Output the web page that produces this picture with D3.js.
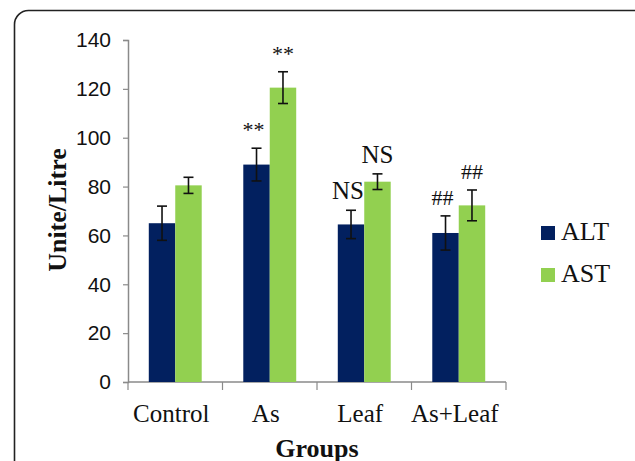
<!DOCTYPE html>
<html>
<head>
<meta charset="utf-8">
<script src="https://cdn.jsdelivr.net/npm/d3@7"></script>
<style>
  body { margin: 0; background: #fff; }
  svg { display: block; }
</style>
</head>
<body>
<script>
// values
const groups = ["Control", "As", "Leaf", "As+Leaf"];
const series = ["ALT", "AST"];
const altVals = [65, 89, 64.5, 61];
const astVals = [80.5, 120.5, 82, 72.3];
const altErr = [7, 6.7, 5.8, 7];
const astErr = [3.3, 6.5, 3.2, 6.3];
const altMarks = ["", "**", "NS", "##"];
const astMarks = ["", "**", "NS", "##"];
const yTicks = [0, 20, 40, 60, 80, 100, 120, 140];
const colors = ["#02205f", "#92d050"];

const W = 635, H = 461;
const svg = d3.select("body").append("svg")
  .attr("width", W)
  .attr("height", H);

// rounded frame, runs off right and bottom
svg.append("rect")
  .attr("x", 14.5).attr("y", 10.5)
  .attr("width", 640).attr("height", 480)
  .attr("rx", 14)
  .attr("fill", "none")
  .attr("stroke", "#222")
  .attr("stroke-width", 1.6);

const plotL = 128, plotR = 506, plotT = 40, plotB = 382;

const y = d3.scaleLinear().domain([0, 140]).range([plotB, plotT]);
const x0 = d3.scaleBand().domain(groups).range([plotL, plotR]).padding(0);
const bw = x0.bandwidth();
const x1 = d3.scaleBand().domain(series).range([bw * 0.22, bw * 0.78]).padding(0);

// y axis
const yAxis = svg.append("g")
  .attr("transform", `translate(${plotL},0)`)
  .call(d3.axisLeft(y).tickValues(yTicks).tickSize(5).tickPadding(12));
yAxis.select(".domain").attr("stroke", "#8a8a8a").attr("stroke-width", 1.5);
yAxis.selectAll(".tick line").attr("stroke", "#8a8a8a").attr("stroke-width", 1.2);
yAxis.selectAll(".tick text")
  .attr("font-family", "Liberation Sans, Arial, sans-serif")
  .attr("font-size", 21)
  .attr("fill", "#111");

// x axis with ticks on band boundaries
const xg = svg.append("g");
xg.append("line")
  .attr("x1", plotL).attr("x2", plotR)
  .attr("y1", plotB).attr("y2", plotB)
  .attr("stroke", "#8a8a8a").attr("stroke-width", 1.5);
const bounds = groups.map(g => x0(g)).concat([plotR]);
xg.selectAll("line.tk").data(bounds).enter().append("line")
  .attr("class", "tk")
  .attr("x1", d => d).attr("x2", d => d)
  .attr("y1", plotB).attr("y2", plotB + 8)
  .attr("stroke", "#8a8a8a").attr("stroke-width", 1.2);
xg.selectAll("text").data(groups).enter().append("text")
  .attr("x", d => x0(d) + bw / 2 - 4)
  .attr("y", 422)
  .attr("text-anchor", "middle")
  .attr("font-family", "Liberation Serif, Times New Roman, serif")
  .attr("font-size", 25)
  .attr("fill", "#111")
  .text(d => d);

// bars
const rows = groups.map((g, i) => ({
  group: g,
  items: [
    { key: "ALT", v: altVals[i], e: altErr[i], m: altMarks[i], c: colors[0] },
    { key: "AST", v: astVals[i], e: astErr[i], m: astMarks[i], c: colors[1] }
  ]
}));

const gg = svg.selectAll("g.grp").data(rows).enter().append("g")
  .attr("class", "grp")
  .attr("transform", d => `translate(${x0(d.group)},0)`);

gg.selectAll("rect").data(d => d.items).enter().append("rect")
  .attr("x", d => x1(d.key))
  .attr("y", d => y(d.v))
  .attr("width", x1.bandwidth())
  .attr("height", d => y(0) - y(d.v))
  .attr("fill", d => d.c);

// error bars
const cap = 5;
const eb = gg.selectAll("g.err").data(d => d.items).enter().append("g")
  .attr("class", "err")
  .attr("stroke", "#111")
  .attr("stroke-width", 1.6);
eb.append("line")
  .attr("x1", d => x1(d.key) + x1.bandwidth() / 2)
  .attr("x2", d => x1(d.key) + x1.bandwidth() / 2)
  .attr("y1", d => y(d.v + d.e))
  .attr("y2", d => y(d.v - d.e));
eb.append("line")
  .attr("x1", d => x1(d.key) + x1.bandwidth() / 2 - cap)
  .attr("x2", d => x1(d.key) + x1.bandwidth() / 2 + cap)
  .attr("y1", d => y(d.v + d.e))
  .attr("y2", d => y(d.v + d.e));
eb.append("line")
  .attr("x1", d => x1(d.key) + x1.bandwidth() / 2 - cap)
  .attr("x2", d => x1(d.key) + x1.bandwidth() / 2 + cap)
  .attr("y1", d => y(d.v - d.e))
  .attr("y2", d => y(d.v - d.e));

// significance marks
gg.selectAll("text.mark").data(d => d.items.filter(it => it.m)).enter().append("text")
  .attr("class", "mark")
  .attr("x", d => x1(d.key) + x1.bandwidth() / 2 - (d.key === "ALT" ? 3 : 0))
  .attr("y", d => y(d.v + d.e) - 11)
  .attr("text-anchor", "middle")
  .attr("font-family", "Liberation Serif, Times New Roman, serif")
  .attr("font-size", d => d.m === "NS" ? 25 : 22)
  .attr("fill", "#111")
  .text(d => d.m);

// axis titles
svg.append("text")
  .attr("transform", "translate(57,210) rotate(-90)")
  .attr("text-anchor", "middle")
  .attr("dominant-baseline", "central")
  .attr("font-family", "Liberation Serif, Times New Roman, serif")
  .attr("font-weight", "bold")
  .attr("font-size", 26)
  .attr("fill", "#111")
  .text("Unite/Litre");

svg.append("text")
  .attr("x", 317).attr("y", 457)
  .attr("text-anchor", "middle")
  .attr("font-family", "Liberation Serif, Times New Roman, serif")
  .attr("font-weight", "bold")
  .attr("font-size", 26)
  .attr("fill", "#111")
  .text("Groups");

// legend
const lg = svg.append("g").attr("transform", "translate(541,226)");
const li = lg.selectAll("g").data(series).enter().append("g")
  .attr("transform", (d, i) => `translate(0,${i * 42})`);
li.append("rect")
  .attr("width", 14).attr("height", 14)
  .attr("fill", (d, i) => colors[i]);
li.append("text")
  .attr("x", 20).attr("y", 14)
  .attr("font-family", "Liberation Serif, Times New Roman, serif")
  .attr("font-size", 26)
  .attr("fill", "#111")
  .text(d => d);
</script>
</body>
</html>
